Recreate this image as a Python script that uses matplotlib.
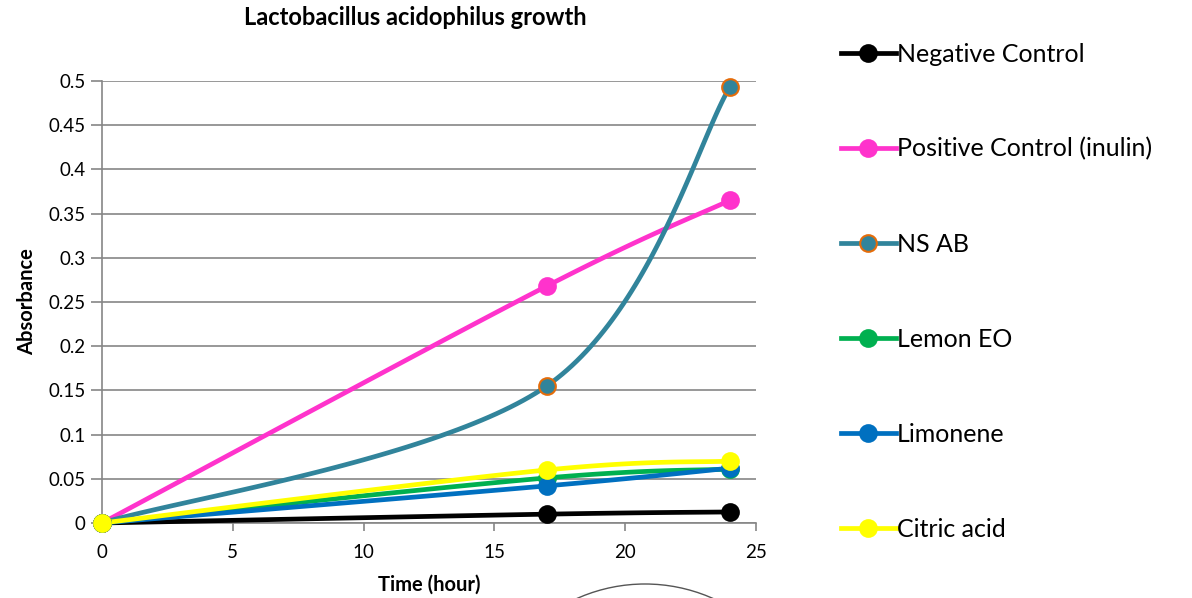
import numpy as np
import matplotlib
matplotlib.use("Agg")
import matplotlib.pyplot as plt
from matplotlib.patches import Ellipse

plt.rcParams['font.family'] = ['Lato', 'DejaVu Sans']

hours = [0, 17, 24]
negative_control = [0, 0.010, 0.0125]
positive_control = [0, 0.268, 0.365]
ns_ab = [0, 0.155, 0.493]
lemon_eo = [0, 0.051, 0.061]
limonene = [0, 0.042, 0.062]
citric_acid = [0, 0.060, 0.070]

series = [
    ("Negative Control", negative_control, "#000000", "#000000"),
    ("Positive Control (inulin)", positive_control, "#FF33CC", "#FF33CC"),
    ("NS AB", ns_ab, "#31849B", "#E46C0A"),
    ("Lemon EO", lemon_eo, "#00B050", "#00B050"),
    ("Limonene", limonene, "#0070C0", "#0070C0"),
    ("Citric acid", citric_acid, "#FFFF00", "#FFFF00"),
]


def smooth(xs, ys, n=60):
    # excel style smoothed line: cubic bezier through each pair of points
    p = np.column_stack([xs, ys]).astype(float)
    out = []
    for i in range(len(p) - 1):
        p0 = p[i - 1] if i > 0 else p[i]
        p1, p2 = p[i], p[i + 1]
        p3 = p[i + 2] if i + 2 < len(p) else p[i + 1]
        c1 = p1 + (p2 - p0) / 6
        c2 = p2 - (p3 - p1) / 6
        t = np.linspace(0, 1, n)[:, None]
        seg = ((1 - t) ** 3) * p1 + 3 * ((1 - t) ** 2) * t * c1 + 3 * (1 - t) * t ** 2 * c2 + t ** 3 * p2
        out.append(seg)
    curve = np.vstack(out)
    return curve[:, 0], curve[:, 1]


fig = plt.figure(figsize=(11.92, 5.98), dpi=100)
ax = fig.add_axes([102 / 1192, 75 / 598, 654 / 1192, 442 / 598])

for name, vals, color, edge in series:
    sx, sy = smooth(hours, vals)
    ax.plot(sx, sy, color=color, lw=3.4, solid_capstyle='round', zorder=3, clip_on=False)
    ax.plot(hours, vals, 'o', color=color, mec=edge, mew=1.5, ms=12, zorder=4, clip_on=False)
    # legend handle only
    ax.plot([], [], '-o', color=color, mec=edge, mew=1.5, ms=12, lw=3.4, label=name)

ax.set_xlim(0, 25)
ax.set_ylim(0, 0.5)
ax.set_xticks(range(0, 26, 5))
ax.set_yticks(np.arange(0, 0.51, 0.05))
ax.set_yticklabels(['0', '0.05', '0.1', '0.15', '0.2', '0.25', '0.3', '0.35', '0.4', '0.45', '0.5'])
ax.grid(axis='y', color='#868686', lw=1.2)
ax.set_axisbelow(True)
for s in ['top', 'right']:
    ax.spines[s].set_visible(False)
for s in ['left', 'bottom']:
    ax.spines[s].set_color('#868686')
    ax.spines[s].set_linewidth(1.2)
ax.tick_params(axis='y', colors='#868686', labelcolor='black', labelsize=13.5, length=8, width=1.2, pad=4)
ax.tick_params(axis='x', colors='#868686', labelcolor='black', labelsize=13.5, length=6, width=1.2, pad=9)

ax.set_title("Lactobacillus acidophilus growth", fontsize=17, fontweight='bold', pad=40, x=0.479)
ax.set_xlabel("Time (hour)", fontsize=14.5, fontweight='bold', labelpad=10)
ax.set_ylabel("Absorbance", fontsize=14.5, fontweight='bold', labelpad=8)

leg = ax.legend(loc='upper left', bbox_to_anchor=(818 / 1192, 1 - 20 / 598), bbox_transform=fig.transFigure,
                frameon=False, fontsize=18, labelspacing=2.88, handlelength=2.2, handletextpad=0.05)

fig.patches.append(Ellipse((645 / 1192, 1 - 751 / 598), 334 / 1192, 334 / 598,
                           transform=fig.transFigure, fill=False, ec='#555555', lw=1))

fig.savefig("out.png", dpi=100)
